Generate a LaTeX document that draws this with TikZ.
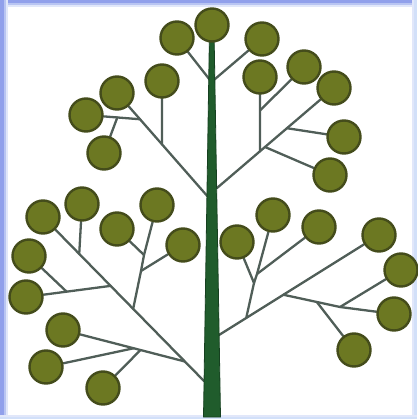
\documentclass[tikz,border=0pt]{standalone}
\usetikzlibrary{calc}
\pgfdeclarelayer{frame}
\pgfdeclarelayer{branches}
\pgfsetlayers{frame,branches,main}
\definecolor{leaffill}{RGB}{108,120,34}
\definecolor{leafedge}{RGB}{68,76,27}
\definecolor{branchcol}{RGB}{80,94,88}
\definecolor{trunkfill}{RGB}{32,92,44}
\definecolor{trunkedge}{RGB}{22,64,32}
\definecolor{bA}{RGB}{145,160,235}
\definecolor{bB}{RGB}{185,197,242}
\definecolor{bC}{RGB}{225,231,250}
\definecolor{bD}{RGB}{210,224,249}
\tikzset{
  leaf/.style={circle,draw=leafedge,fill=leaffill,line width=2.4pt,minimum size=33pt,inner sep=0pt},
  branch/.style={draw=branchcol,line width=2.3pt,line cap=round,line join=round},
}
\begin{document}
\begin{tikzpicture}[x=1pt,y=-1pt]
\useasboundingbox (0,0) rectangle (417,419);
\begin{pgfonlayer}{frame}
\fill[white] (0,0) rectangle (417,419);
\fill[bA] (0,0) rectangle (417,3);
\fill[bB] (0,3) rectangle (417,5);
\fill[bC] (0,5) rectangle (417,7);
\fill[bA] (0,0) rectangle (4,419);
\fill[bB] (4,0) rectangle (6,419);
\fill[bC] (6,0) rectangle (8,419);
\fill[bC] (412,0) rectangle (414,419);
\fill[bD] (414,0) rectangle (417,419);
\fill[bC] (0,415) rectangle (417,417);
\fill[bD] (0,417) rectangle (417,419);
\end{pgfonlayer}

% leaves
\path
  (212,25)  node[leaf] (T) {}
  (177,38)  node[leaf] (A) {}
  (262,39)  node[leaf] (E) {}
  (117,93)  node[leaf] (B) {}
  (162,81)  node[leaf] (Bv) {}
  (86,115)  node[leaf] (C) {}
  (104,153) node[leaf] (D) {}
  (260,77)  node[leaf] (G) {}
  (304,67)  node[leaf] (H) {}
  (334,88)  node[leaf] (F) {}
  (344,137) node[leaf] (I) {}
  (330,175) node[leaf] (K) {}
  (43,217)  node[leaf] (M1) {}
  (82,204)  node[leaf] (M2) {}
  (117,229) node[leaf] (M3) {}
  (157,205) node[leaf] (M4) {}
  (183,245) node[leaf] (M5) {}
  (29,256)  node[leaf] (M6) {}
  (26,297)  node[leaf] (M7) {}
  (63,330)  node[leaf] (L1) {}
  (46,367)  node[leaf] (L2) {}
  (103,388) node[leaf] (L3) {}
  (237,242) node[leaf] (R1) {}
  (273,215) node[leaf] (R2) {}
  (319,227) node[leaf] (R3) {}
  (379,235) node[leaf] (R4) {}
  (401,270) node[leaf] (R5) {}
  (394,314) node[leaf] (R6) {}
  (354,350) node[leaf] (R7) {};

% trunk base points and junctions
\coordinate (P0) at (211.5,82);
\coordinate (P1) at (209,198);
\coordinate (P2) at (217,188);
\coordinate (P3) at (204,381);
\coordinate (P4) at (219,335);
% upper left
\coordinate (J1) at ($(P1)!0.51!(B)$);
\coordinate (J2) at ($(P1)!0.75!(B)$);
\coordinate (J3) at ($(J2)!0.42!(C)$);
% upper right
\coordinate (K1) at ($(P2)!0.3675!(F)$);
\coordinate (K2) at ($(K1)!0.55!(G)$);
\coordinate (K3) at ($(P2)!0.598!(F)$);
\coordinate (K4) at ($(P2)!0.41!(F)$);
% lower left
\coordinate (N1) at ($(P3)!0.119!(M1)$);
\coordinate (N2) at ($(N1)!0.364!(L1)$);
\coordinate (N3) at ($(N1)!0.42!(L1)$);
\coordinate (N4) at ($(P3)!0.44!(M1)$);
\coordinate (N5) at (141,271);
\coordinate (N6) at (144,255);
\coordinate (N7) at ($(P3)!0.58!(M1)$);
\coordinate (N8) at ($(N7)!0.52!(M7)$);
\coordinate (N9) at ($(P3)!0.775!(M1)$);
% lower right
\coordinate (Q1) at ($(P4)!0.17!(R4)$);
\coordinate (Q2) at (254,283);
\coordinate (Q3) at (257,274);
\coordinate (Q4) at ($(P4)!0.4025!(R4)$);
\coordinate (Q6) at (340,307);
\coordinate (Q5) at ($(Q4)!0.59!(Q6)$);

\begin{pgfonlayer}{branches}
\draw[branch] (P0) -- (A);
\draw[branch] (P0) -- (E);
\draw[branch] (P1) -- (B);
\draw[branch] (J1) -- (Bv);
\draw[branch] (J2) -- (C);
\draw[branch] (J3) -- (D);
\draw[branch] (P2) -- (F);
\draw[branch] (K1) -- (G);
\draw[branch] (K2) -- (H);
\draw[branch] (K3) -- (I);
\draw[branch] (K4) -- (K);
\draw[branch] (P3) -- (M1);
\draw[branch] (N1) -- (L1);
\draw[branch] (N2) -- (L3);
\draw[branch] (N3) -- (L2);
\draw[branch] (N4) -- (N5) -- (N6) -- (M4);
\draw[branch] (N6) -- (M3);
\draw[branch] (N5) -- (M5);
\draw[branch] (N7) -- (M7);
\draw[branch] (N8) -- (M6);
\draw[branch] (N9) -- (M2);
\draw[branch] (P4) -- (R4);
\draw[branch] (Q1) -- (Q2) -- (R1);
\draw[branch] (Q2) -- (Q3) -- (R2);
\draw[branch] (Q3) -- (R3);
\draw[branch] (Q4) -- (Q6) -- (R6);
\draw[branch] (Q6) -- (R5);
\draw[branch] (Q5) -- (R7);
% trunk
\filldraw[fill=trunkfill,draw=trunkedge,line width=0.8pt]
  (209.5,30) -- (214,30) -- (220.5,417) -- (203.5,417) -- cycle;
\end{pgfonlayer}
\end{tikzpicture}
\end{document}
